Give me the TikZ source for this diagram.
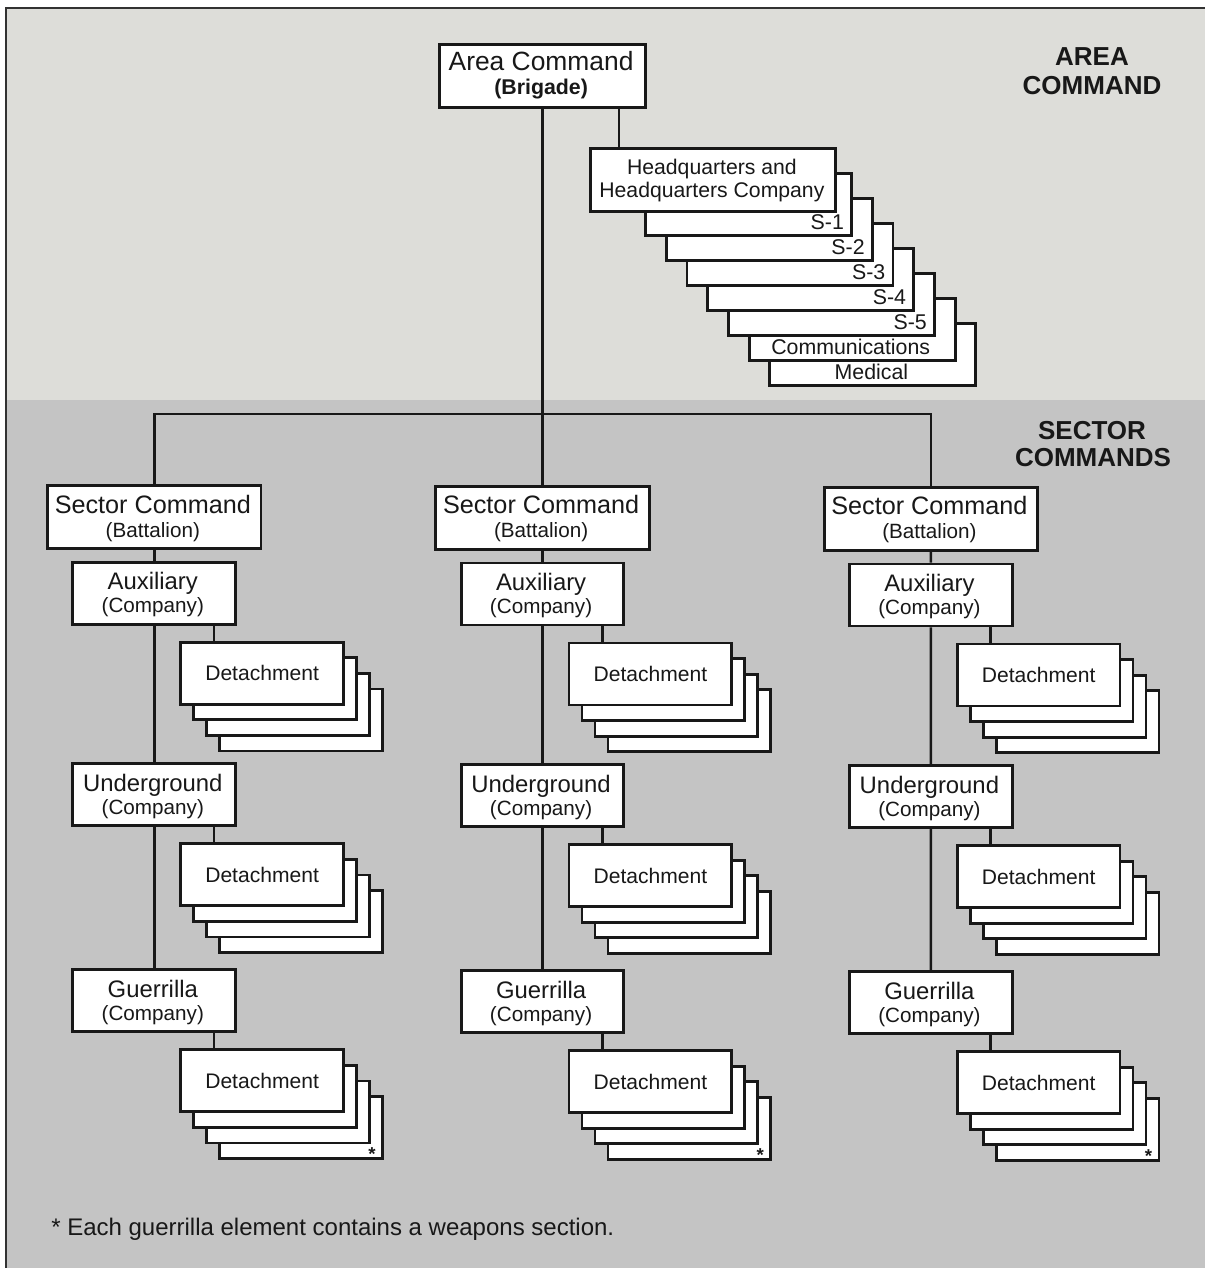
\documentclass[tikz,border=0pt]{standalone}
\usepackage{fontspec}
\setmainfont{Liberation Sans}
\usetikzlibrary{calc}
\definecolor{areabg}{RGB}{221,221,217}
\definecolor{sectbg}{RGB}{196,196,196}
\definecolor{ink}{RGB}{24,24,24}
\definecolor{framec}{RGB}{50,50,50}
\begin{document}
\begin{tikzpicture}[x=0.75pt,y=-0.75pt,
  box/.style={draw=ink,line width=2.15pt,fill=white,inner sep=0pt,rectangle,anchor=north west,text=ink},
  wh/.style 2 args={minimum width=#1*0.75pt,minimum height=#2*0.75pt},
  link/.style={draw=ink,line width=2pt},
  lbl/.style={inner sep=0pt,anchor=base,text=ink},
  areattl/.style={lbl,font=\fontsize{19.8}{22}\selectfont},
  secttl/.style={lbl,font=\fontsize{18.9}{22}\selectfont},
  cmpttl/.style={lbl,font=\fontsize{17.9}{20}\selectfont},
  subttl/.style={lbl,font=\fontsize{15.5}{18}\selectfont},
  subbold/.style={lbl,font=\fontsize{16}{18}\selectfont\bfseries},
  hqtxt/.style={lbl,font=\fontsize{15.9}{18}\selectfont},
  stafftxt/.style={lbl,font=\fontsize{16}{18}\selectfont},
  dettxt/.style={font=\fontsize{15.8}{18}\selectfont},
  hdr/.style={lbl,font=\fontsize{19.5}{22}\selectfont\bfseries},
  astx/.style={lbl,font=\fontsize{14}{16}\selectfont\bfseries},
  notetxt/.style={inner sep=0pt,anchor=base west,text=ink,font=\fontsize{18}{20}\selectfont}
]
\useasboundingbox (0,0) rectangle (1205,1268);

% background bands and frame
\fill[white] (0,0) rectangle (1205,1268);
\fill[areabg] (6,8) rectangle (1205,400);
\fill[sectbg] (6,400) rectangle (1205,1268);
\draw[framec,line width=1.9pt] (6,1268) -- (6,8) -- (1205,8);

% band headings
\node[hdr] (hdr-a1) at (1092,65) {AREA};
\node[hdr] (hdr-a2) at (1092,94) {COMMAND};
\node[hdr] (hdr-s1) at (1092,439.3) {SECTOR};
\node[hdr] (hdr-s2) at (1093,466.7) {COMMANDS};

% area command
\node[box,wh={206.2}{62.4}] (area) at (438,43.3) {};
\node[areattl] (area-t) at (541.1,70.8) {Area Command};
\node[subbold] (area-s) at (541.1,94.3) {(Brigade)};

% headquarters staff stack, back to front
\foreach \i/\nm in {7/Medical,6/Communications,5/S-5,4/S-4,3/S-3,2/S-2,1/S-1}{
  \pgfmathsetmacro{\sl}{644.2+20.7*(\i-1)}
  \pgfmathsetmacro{\st}{171.7+25*(\i-1)}
  \node[box,wh={206}{62.5}] (staff\i) at (\sl,\st) {};
  \ifnum\i>5
    \node[stafftxt] (staff\i-t) at (\sl+103,\st+58) {\nm};
  \else
    \node[stafftxt,anchor=base east] (staff\i-t) at (\sl+200,\st+58) {\nm};
  \fi
}
\node[box,wh={245}{62.7}] (hq) at (589.4,147.3) {};
\node[hqtxt] (hq-t1) at (711.9,174.3) {Headquarters and};
\node[hqtxt] (hq-t2) at (711.9,197.8) {Headquarters Company};
\coordinate (hqx) at (619,0);
\draw[link] (area.south -| hqx) -- (hq.north -| hqx);

% sector commands with their companies and detachments
\foreach \col in {0,1,2}{
  \pgfmathsetmacro{\vx}{152.8+388.3*\col}
  \pgfmathsetmacro{\dy}{0.9*\col}
  \node[box,wh={213.5}{63}] (sec\col) at (\vx-106.75,484+\dy) {};
  \node[secttl] (sec\col-t) at (\vx,513+\dy) {Sector Command};
  \node[subttl] (sec\col-s) at (\vx,537+\dy) {(Battalion)};
  \coordinate (dx\col) at (\vx+61.2,0);
  \foreach \row/\nm/\yt in {0/Auxiliary/560.7,1/Underground/762.3,2/Guerrilla/968.3}{
    \node[box,wh={162.7}{62}] (co\col-\row) at (\vx-81.35,\yt+\dy) {};
    \node[cmpttl] (co\col-\row-t) at (\vx,\yt+\dy+29) {\nm};
    \node[subttl] (co\col-\row-s) at (\vx,\yt+\dy+52) {(Company)};
    \pgfmathsetmacro{\dl}{\vx+26.5}
    \pgfmathsetmacro{\dt}{\yt+\dy+80}
    \foreach \k in {3,2,1}{
      \node[box,wh={162.7}{62}] (det\col-\row-\k) at (\dl+13*\k,\dt+15.6*\k) {};
    }
    \node[box,wh={162.7}{62},dettxt] (det\col-\row-0) at (\dl,\dt) {Detachment};
    \ifnum\row=2
      \node[astx] (ast\col) at (\dl+39+162.7-9,\dt+46.8+62+3.5) {*};
    \fi
    \draw[link] (co\col-\row.south -| dx\col) -- (det\col-\row-0.north -| dx\col);
  }
  \draw[link] (sec\col.south) -- (co\col-0.north)
              (co\col-0.south) -- (co\col-1.north)
              (co\col-1.south) -- (co\col-2.north);
}

% command links from the area to the sectors
\coordinate (bar) at (541.1,414);
\draw[link] (area.south) -- (sec1.north);
\draw[link] (sec0.north) -- (sec0.north |- bar) -- (sec2.north |- bar) -- (sec2.north);

% footnote
\node[notetxt] (note) at (51,1235) {* Each guerrilla element contains a weapons section.};
\end{tikzpicture}
\end{document}
